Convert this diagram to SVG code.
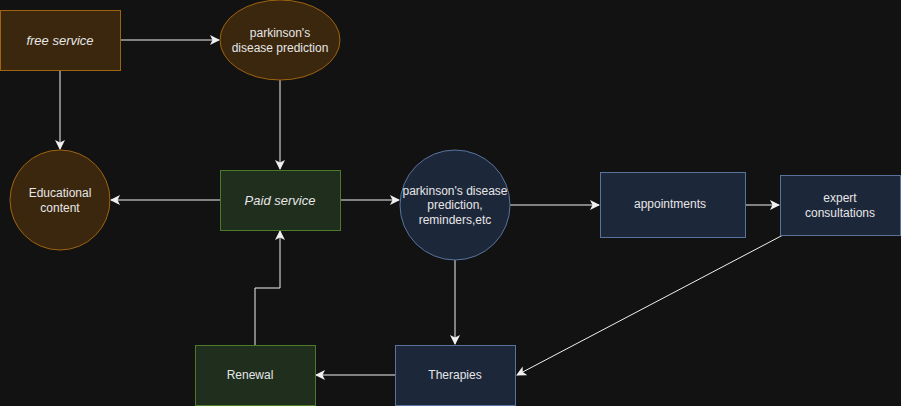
<svg xmlns="http://www.w3.org/2000/svg" width="901" height="406" viewBox="0 0 901 406">
<defs>
<style>
.t{font-family:"Liberation Sans",Arial,sans-serif;font-size:12px;fill:#e6e6e6;text-anchor:middle}
.i{font-style:italic;font-size:13px}
.br{fill:#3b260e;stroke:#9e6410;stroke-width:1}
.gr{fill:#1f2e1d;stroke:#4b7a2b;stroke-width:1}
.bl{fill:#1d273a;stroke:#58739d;stroke-width:1}
.c{fill:none;stroke:#f0f0f0;stroke-width:1;marker-end:url(#a)}
</style>
<marker id="a" viewBox="0 0 10 10" refX="9" refY="5" markerWidth="10" markerHeight="10" markerUnits="userSpaceOnUse" orient="auto">
<path d="M0,0 L10,5 L0,10 L2.5,5 Z" fill="#f0f0f0"/>
</marker>
</defs>
<rect width="901" height="406" fill="#121212"/>
<g id="connectors">
<path class="c" d="M120,40 L219,40"/>
<path class="c" d="M60,70 L60,149"/>
<path class="c" d="M280,80 L280,169"/>
<path class="c" d="M220,200 L111,200"/>
<path class="c" d="M340,200 L399,200"/>
<path class="c" d="M510,205 L599,205"/>
<path class="c" d="M745,205 L779,205"/>
<path class="c" d="M783,235 L517,375"/>
<path class="c" d="M455,250 L455,344"/>
<path class="c" d="M395,375 L316,375"/>
<path class="c" d="M255,345 L255,288 L280,288 L280,231"/>
</g>
<g id="free-service">
<rect class="br" x="0.5" y="10.5" width="120" height="60"/>
<text class="t i" x="60" y="44.5">free service</text>
</g>
<g id="prediction">
<ellipse class="br" cx="280" cy="40" rx="60" ry="40"/>
<text class="t" x="280" y="37">parkinson's</text>
<text class="t" x="280" y="52">disease prediction</text>
</g>
<g id="educational">
<circle class="br" cx="60" cy="200" r="50"/>
<text class="t" x="60" y="197">Educational</text>
<text class="t" x="60" y="212">content</text>
</g>
<g id="paid-service">
<rect class="gr" x="220.5" y="170.5" width="120" height="60"/>
<text class="t i" x="280" y="204.5">Paid service</text>
</g>
<g id="features">
<circle class="bl" cx="455" cy="205" r="55"/>
<text class="t" x="455" y="195">parkinson's disease</text>
<text class="t" x="455" y="209">prediction,</text>
<text class="t" x="455" y="224">reminders,etc</text>
</g>
<g id="appointments">
<rect class="bl" x="600.5" y="172.5" width="145" height="65"/>
<text class="t" x="670" y="208">appointments</text>
</g>
<g id="expert">
<rect class="bl" x="780.5" y="175.5" width="120" height="60"/>
<text class="t" x="840" y="202">expert</text>
<text class="t" x="840" y="217">consultations</text>
</g>
<g id="therapies">
<rect class="bl" x="395.5" y="345.5" width="120" height="60"/>
<text class="t" x="455" y="379">Therapies</text>
</g>
<g id="renewal">
<rect class="gr" x="195.5" y="345.5" width="120" height="60"/>
<text class="t" x="250" y="379">Renewal</text>
</g>
</svg>
